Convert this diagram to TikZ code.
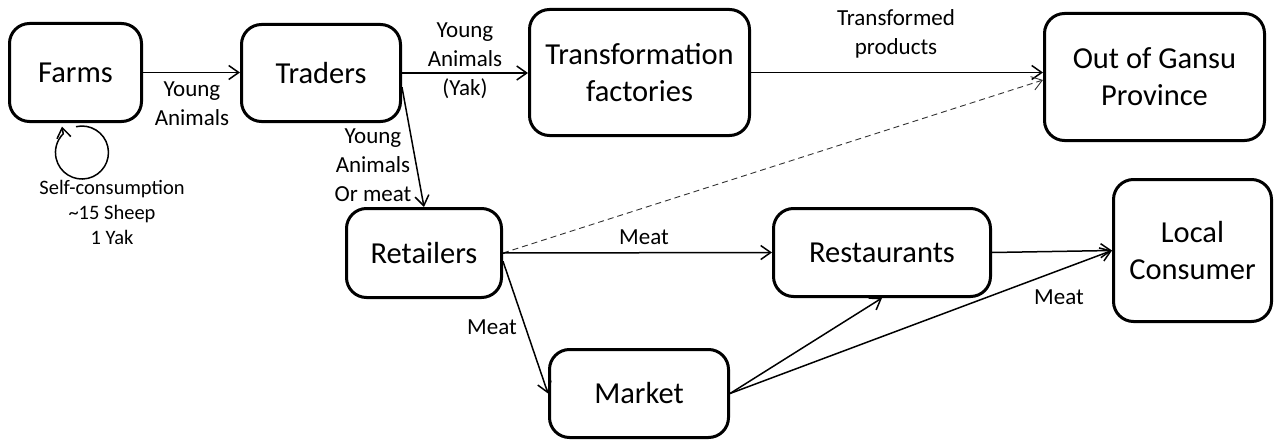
\documentclass[tikz,border=0pt]{standalone}
\usepackage{fontspec}
\setmainfont{Carlito}
\usetikzlibrary{arrows.meta,calc}
\begin{document}
\begin{tikzpicture}[x=1pt,y=-1pt,
  box/.style={draw, line width=3pt, rounded corners=20pt, align=center, inner sep=0pt, font=\fontsize{30.5}{37}\selectfont},
  lab/.style={align=center, inner sep=0pt, font=\fontsize{23}{29}\selectfont},
  smalllab/.style={align=center, inner sep=0pt, font=\fontsize{20.5}{25}\selectfont},
  arr/.style={line width=1.5pt, -{Straight Barb[length=10pt,width=14pt,line width=1.5pt]}},
  dashline/.style={line width=0.9pt, black!80, dash pattern=on 6pt off 4pt, -{Straight Barb[length=10pt,width=14pt,line width=0.9pt]}}
]
\useasboundingbox (0,0) rectangle (1284,444);
% nodes
\node[box, minimum width=132pt, minimum height=98pt]  (farms) at (75.5,72.5) {Farms};
\node[box, minimum width=159pt, minimum height=97pt]  (traders) at (321,73) {Traders};
\node[box, minimum width=220pt, minimum height=126pt] (trans) at (639.5,72.5) {Transformation\\factories};
\node[box, minimum width=220pt, minimum height=127pt] (out) at (1154.5,77) {Out of Gansu\\Province};
\node[box, minimum width=155pt, minimum height=89pt]  (retail) at (424,253) {Retailers};
\node[box, minimum width=179pt, minimum height=88pt]  (market) at (639,393.5) {Market};
\node[box, minimum width=217pt, minimum height=88pt]  (rest) at (882,252.5) {Restaurants};
\node[box, minimum width=158pt, minimum height=142pt] (local) at (1192.5,250.5) {Local\\Consumer};
% connectors
\draw[arr] (farms.east) -- (farms.east -| traders.west);
\draw[arr] (traders.east) -- (traders.east -| trans.west);
\draw[arr] (traders.-10) -- (retail.north);
\draw[arr] (trans.east) -- (trans.east -| out.west);
\draw[dashline] (retail.east) -- ($(out.west)+(0,3)$);
\draw[arr] (retail.east) -- (rest.west);
\draw[arr] (retail.-6) -- (market.west);
\draw[arr] (market.east) -- (rest.south);
\draw[arr] (market.east) -- (local.west);
\draw[arr] (rest.east) -- (local.west);
% self loop
\coordinate (ls) at ($(farms.south)+(0.5,3.7)$);
\coordinate (le) at ($(farms.south)+(-13.5,3.5)$);
\draw[arr] (ls) arc[start angle=-103, end angle=225, radius=26.5] -- (le);
% labels
\node[lab] (l1) at (192,104) {Young\\Animals};
\node[lab] (l2) at (465,61) {Young\\Animals\\(Yak)};
\node[lab] (l3) at (373,165) {Young\\Animals\\Or meat};
\node[lab] (l4) at (896,34) {Transformed\\products};
\node[lab] (l5) at (644,237) {Meat};
\node[lab] (l6) at (492,327) {Meat};
\node[lab] (l7) at (1059,297) {Meat};
\node[smalllab] (l8) at (112,212) {Self-consumption\\\textasciitilde15 Sheep\\1 Yak};
\end{tikzpicture}
\end{document}
